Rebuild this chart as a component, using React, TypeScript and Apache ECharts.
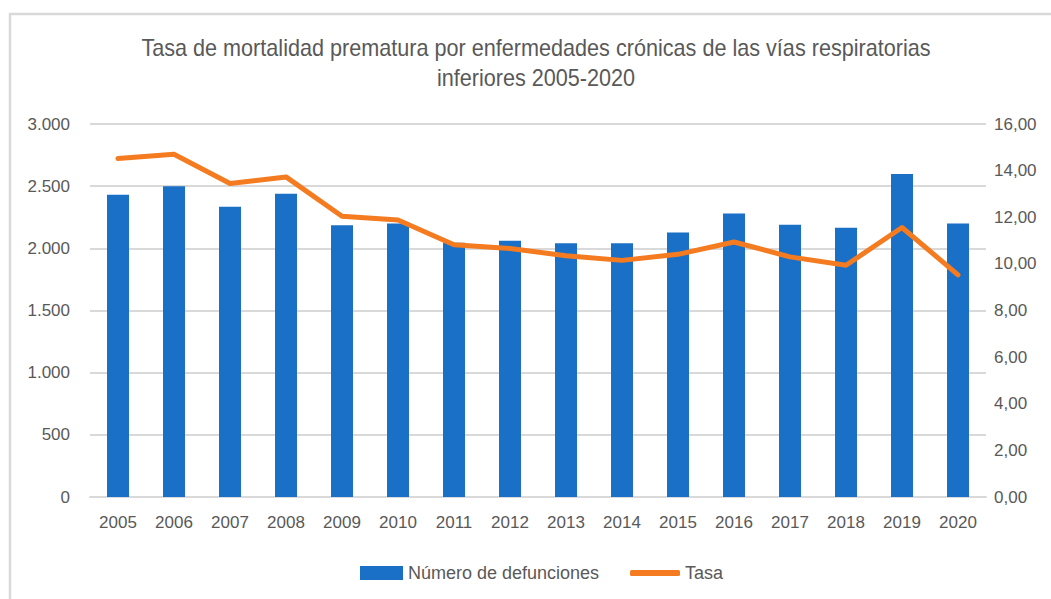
import React, { useEffect, useRef } from "react";
import * as echarts from "echarts";

const years = ["2005","2006","2007","2008","2009","2010","2011","2012","2013","2014","2015","2016","2017","2018","2019","2020"];
const defunciones = [2430, 2500, 2335, 2440, 2185, 2200, 2045, 2060, 2040, 2040, 2127, 2280, 2190, 2165, 2598, 2200];
const tasa = [14.52, 14.70, 13.45, 13.73, 12.04, 11.88, 10.82, 10.66, 10.35, 10.15, 10.41, 10.94, 10.30, 9.94, 11.56, 9.53];

const titleLines = ["Tasa de mortalidad prematura por enfermedades crónicas de las vías respiratorias", "inferiores 2005-2020"];
const FONT = "'Liberation Sans', Arial, sans-serif";

export default function App() {
  const ref = useRef<HTMLDivElement>(null);
  useEffect(() => {
    document.body.style.margin = "0";
    const chart = echarts.init(ref.current!, null, { renderer: "svg" });
    chart.setOption({
      animation: false,
      backgroundColor: "#ffffff",
      textStyle: { fontFamily: FONT },
      graphic: [
        {
          type: "rect",
          shape: { x: 10, y: 14, width: 1200, height: 800 },
          style: { fill: "none", stroke: "#d9d9d9", lineWidth: 2.5 },
          silent: true,
        },
        {
          type: "text",
          x: 536,
          y: 48,
          scaleX: 0.94,
          style: { text: titleLines[0], font: `23px ${FONT}`, fill: "#595959", align: "center", verticalAlign: "middle" },
        },
        {
          type: "text",
          x: 536,
          y: 78,
          scaleX: 0.94,
          style: { text: titleLines[1], font: `23px ${FONT}`, fill: "#595959", align: "center", verticalAlign: "middle" },
        },
      ],
      legend: [
        {
          top: 559,
          left: 355,
          itemWidth: 43,
          itemHeight: 14,
          textStyle: { fontFamily: FONT, fontSize: 18, color: "#595959" },
          data: [{ name: "Número de defunciones", icon: "rect" }],
        },
        {
          top: 559,
          left: 625,
          itemWidth: 50,
          itemHeight: 6,
          textStyle: { fontFamily: FONT, fontSize: 18, color: "#595959" },
          data: [{ name: "Tasa", icon: "roundRect" }],
        },
      ],
      grid: { left: 90, right: 65, top: 124, bottom: 102, containLabel: false },
      xAxis: {
        type: "category",
        data: years,
        axisTick: { show: false },
        axisLine: { lineStyle: { color: "#d9d9d9", width: 2 } },
        axisLabel: { fontFamily: FONT, fontSize: 17, color: "#595959", margin: 17, interval: 0 },
      },
      yAxis: [
        {
          type: "value",
          min: 0,
          max: 3000,
          interval: 500,
          axisLine: { show: false },
          axisTick: { show: false },
          splitLine: { lineStyle: { color: "#d9d9d9", width: 2 } },
          axisLabel: {
            fontFamily: FONT,
            fontSize: 17,
            color: "#595959",
            margin: 20,
            formatter: (v: number) => v.toString().replace(/\B(?=(\d{3})+(?!\d))/g, "."),
          },
        },
        {
          type: "value",
          min: 0,
          max: 16,
          interval: 2,
          axisLine: { show: false },
          axisTick: { show: false },
          splitLine: { show: false },
          axisLabel: {
            fontFamily: FONT,
            fontSize: 17,
            color: "#595959",
            margin: 8,
            formatter: (v: number) => v.toFixed(2).replace(".", ","),
          },
        },
      ],
      series: [
        {
          name: "Número de defunciones",
          type: "bar",
          data: defunciones,
          barWidth: 22,
          itemStyle: { color: "#1a6fc6" },
          yAxisIndex: 0,
        },
        {
          name: "Tasa",
          type: "line",
          data: tasa,
          yAxisIndex: 1,
          symbol: "none",
          lineStyle: { color: "#f47b20", width: 5, cap: "round", join: "round" },
          itemStyle: { color: "#f47b20" },
        },
      ],
    });
    return () => chart.dispose();
  }, []);
  return <div ref={ref} style={{ width: 1051, height: 599 }} />;
}
